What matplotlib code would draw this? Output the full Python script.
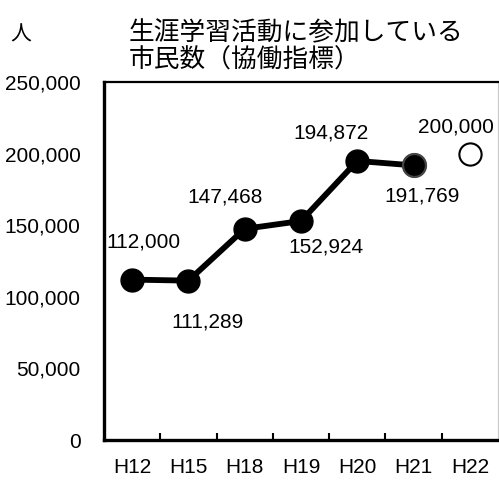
import matplotlib
matplotlib.use('Agg')
import matplotlib.pyplot as plt
from matplotlib.ticker import FuncFormatter

plt.rcParams['font.family'] = ['Liberation Sans', 'Noto Sans CJK JP']

# 年度と参加者数
years = ['H12', 'H15', 'H18', 'H19', 'H20', 'H21', 'H22']
actual = [112000, 111289, 147468, 152924, 194872, 191769]
target = 200000

# ラベルの位置ずらし (pt)
label_offsets = [(8, 27), (14, -30), (-14, 23), (18, -19), (-19, 20), (6, -22), (-10, 19)]

fig = plt.figure(figsize=(4.99, 4.80), dpi=100)
ax = fig.add_axes([0.2084, 0.0833, 0.7896, 0.7459])

x = list(range(len(years)))
ax.plot(x[:len(actual)], actual, color='black', lw=4.2, marker='o',
        markersize=16.5, markerfacecolor='black', markeredgecolor='black', zorder=3)
# H21 は縁取りを少し灰色に
ax.plot(x[len(actual) - 1], actual[-1], marker='o', markersize=16.5,
        markerfacecolor='black', markeredgecolor='#444444', markeredgewidth=1.6, zorder=4)
# 目標値（H22）
ax.plot(x[-1], target, marker='o', markersize=16, markerfacecolor='white',
        markeredgecolor='black', markeredgewidth=1.5, zorder=4)

values = actual + [target]
for i, v in enumerate(values):
    ax.annotate(f'{v:,}', (x[i], v), xytext=label_offsets[i], textcoords='offset points',
                ha='center', va='center', fontsize=15)

ax.set_xlim(-0.5, len(years) - 0.5)
ax.set_ylim(0, 250000)
ax.set_yticks(range(0, 250001, 50000))
ax.yaxis.set_major_formatter(FuncFormatter(lambda v, p: f'{int(v):,}'))
ax.tick_params(axis='y', length=0, pad=17, labelsize=15)
ax.set_xticks(x)
ax.set_xticklabels(years)
ax.tick_params(axis='x', which='major', length=0, pad=13, labelsize=15)
ax.set_xticks([i + 0.5 for i in x[:-1]], minor=True)
ax.tick_params(axis='x', which='minor', direction='in', length=5, width=1.5, color='black')

for side in ['left', 'bottom']:
    ax.spines[side].set_linewidth(2.4)
ax.spines['top'].set_linewidth(1.6)
ax.spines['right'].set_color('#c8c8c8')
ax.spines['right'].set_linewidth(0.8)

fig.text(0.042, 0.929, '人', fontsize=15, family='Noto Sans CJK JP', ha='center', va='center')
fig.text(0.258, 0.931, '生涯学習活動に参加している', fontsize=18.5,
         family='Noto Sans CJK JP', ha='left', va='center')
fig.text(0.258, 0.874, '市民数（協働指標）', fontsize=18.5,
         family='Noto Sans CJK JP', ha='left', va='center')

fig.savefig('out.png', dpi=100)
